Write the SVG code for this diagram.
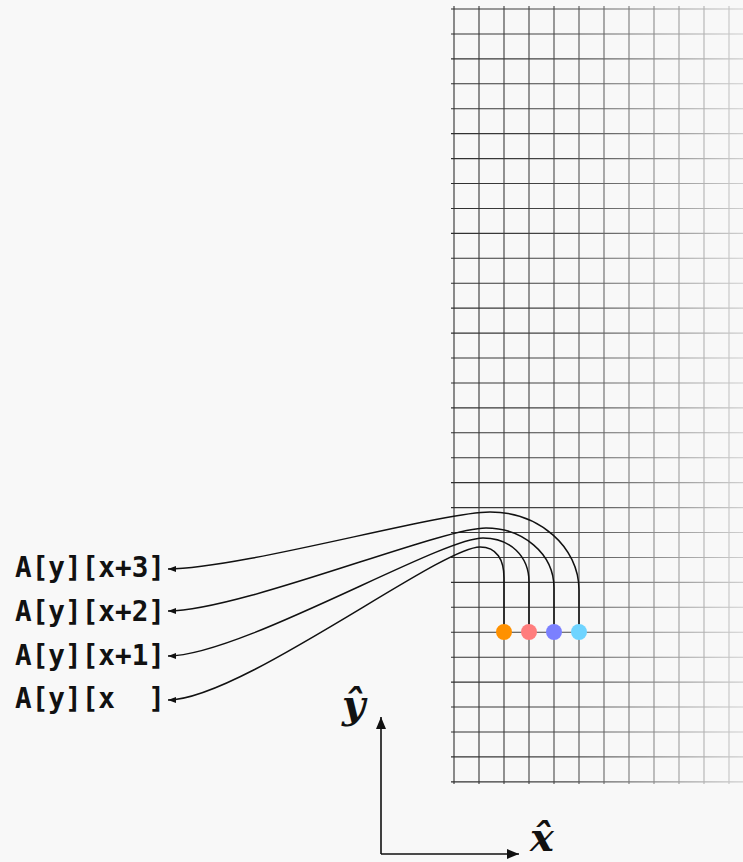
<svg xmlns="http://www.w3.org/2000/svg" width="743" height="862" viewBox="0 0 743 862">
<style>
.lbl{font-family:"DejaVu Sans Mono","Liberation Mono",monospace;font-weight:bold;font-size:28px;fill:#111;white-space:pre}
.conn{fill:none;stroke:#111;stroke-width:1.5}
.axis{fill:none;stroke:#111;stroke-width:1.6}
.math{font-family:"DejaVu Serif","Liberation Serif",serif;font-style:italic;font-weight:bold;font-size:40px;fill:#111}
.g{stroke:url(#fade);stroke-width:1.1}
</style>
<defs>
<linearGradient id="fade" gradientUnits="userSpaceOnUse" x1="450" y1="0" x2="743" y2="0">
<stop offset="0" stop-color="#2e2e2e"/>
<stop offset="0.4" stop-color="#4a4a4a"/>
<stop offset="1" stop-color="#cfcfcf"/>
</linearGradient>
<marker id="ah" markerUnits="userSpaceOnUse" markerWidth="9" markerHeight="7" refX="8" refY="3" orient="auto" viewBox="0 0 9 7">
<path d="M0,0 L8,3 L0,6 z" fill="#111"/>
</marker>
<marker id="axh" markerUnits="userSpaceOnUse" markerWidth="13" markerHeight="11" refX="12" refY="5" orient="auto" viewBox="0 0 13 11">
<path d="M0,0 L12,5 L0,10 z" fill="#111"/>
</marker>
</defs>
<rect width="743" height="862" fill="#f8f8f8"/>
<g id="grid">
<g id="grid-h">
<line class="g" x1="451" y1="9" x2="743" y2="9"/>
<line class="g" x1="451" y1="33.93" x2="743" y2="33.93"/>
<line class="g" x1="451" y1="58.86" x2="743" y2="58.86"/>
<line class="g" x1="451" y1="83.79" x2="743" y2="83.79"/>
<line class="g" x1="451" y1="108.72" x2="743" y2="108.72"/>
<line class="g" x1="451" y1="133.65" x2="743" y2="133.65"/>
<line class="g" x1="451" y1="158.58" x2="743" y2="158.58"/>
<line class="g" x1="451" y1="183.51" x2="743" y2="183.51"/>
<line class="g" x1="451" y1="208.44" x2="743" y2="208.44"/>
<line class="g" x1="451" y1="233.37" x2="743" y2="233.37"/>
<line class="g" x1="451" y1="258.3" x2="743" y2="258.3"/>
<line class="g" x1="451" y1="283.23" x2="743" y2="283.23"/>
<line class="g" x1="451" y1="308.16" x2="743" y2="308.16"/>
<line class="g" x1="451" y1="333.09" x2="743" y2="333.09"/>
<line class="g" x1="451" y1="358.02" x2="743" y2="358.02"/>
<line class="g" x1="451" y1="382.95" x2="743" y2="382.95"/>
<line class="g" x1="451" y1="407.88" x2="743" y2="407.88"/>
<line class="g" x1="451" y1="432.81" x2="743" y2="432.81"/>
<line class="g" x1="451" y1="457.74" x2="743" y2="457.74"/>
<line class="g" x1="451" y1="482.67" x2="743" y2="482.67"/>
<line class="g" x1="451" y1="507.6" x2="743" y2="507.6"/>
<line class="g" x1="451" y1="532.53" x2="743" y2="532.53"/>
<line class="g" x1="451" y1="557.46" x2="743" y2="557.46"/>
<line class="g" x1="451" y1="582.39" x2="743" y2="582.39"/>
<line class="g" x1="451" y1="607.32" x2="743" y2="607.32"/>
<line class="g" x1="451" y1="632.25" x2="743" y2="632.25"/>
<line class="g" x1="451" y1="657.18" x2="743" y2="657.18"/>
<line class="g" x1="451" y1="682.11" x2="743" y2="682.11"/>
<line class="g" x1="451" y1="707.04" x2="743" y2="707.04"/>
<line class="g" x1="451" y1="731.97" x2="743" y2="731.97"/>
<line class="g" x1="451" y1="756.9" x2="743" y2="756.9"/>
<line class="g" x1="451" y1="781.83" x2="743" y2="781.83"/>
</g>
<g id="grid-v">
<line class="g" x1="454" y1="6" x2="454" y2="784"/>
<line class="g" x1="479" y1="6" x2="479" y2="784"/>
<line class="g" x1="504" y1="6" x2="504" y2="784"/>
<line class="g" x1="529" y1="6" x2="529" y2="784"/>
<line class="g" x1="554" y1="6" x2="554" y2="784"/>
<line class="g" x1="579" y1="6" x2="579" y2="784"/>
<line class="g" x1="604" y1="6" x2="604" y2="784"/>
<line class="g" x1="629" y1="6" x2="629" y2="784"/>
<line class="g" x1="654" y1="6" x2="654" y2="784"/>
<line class="g" x1="679" y1="6" x2="679" y2="784"/>
<line class="g" x1="704" y1="6" x2="704" y2="784"/>
<line class="g" x1="729" y1="6" x2="729" y2="784"/>
</g>
</g>
<g id="connectors">
<path class="conn" marker-end="url(#ah)" d="M579,632 L579,590 C579,547 539,512 490,512 C440,512 240,569 168,569"/>
<path class="conn" marker-end="url(#ah)" d="M554,632 L554,588 C554,553 522,528 486,528 C440,528 240,611 168,611"/>
<path class="conn" marker-end="url(#ah)" d="M529,632 L529,582 C529,556 510,538 483,538 C440,538 240,656 168,656"/>
<path class="conn" marker-end="url(#ah)" d="M504,632 L504,578 C504,560 497,547 480,547 C440,547 240,700 168,700"/>
</g>
<g id="dot-x0"><circle cx="504" cy="632" r="8" fill="#ff9100"/></g>
<g id="dot-x1"><circle cx="529" cy="632" r="8" fill="#ff7d7d"/></g>
<g id="dot-x2"><circle cx="554" cy="632" r="8" fill="#7b80ff"/></g>
<g id="dot-x3"><circle cx="579" cy="632" r="8" fill="#6fd4ff"/></g>
<g id="label-x3"><text class="lbl" x="15" y="577" textLength="150" lengthAdjust="spacingAndGlyphs">A[y][x+3]</text></g>
<g id="label-x2"><text class="lbl" x="15" y="621" textLength="150" lengthAdjust="spacingAndGlyphs">A[y][x+2]</text></g>
<g id="label-x1"><text class="lbl" x="15" y="665" textLength="150" lengthAdjust="spacingAndGlyphs">A[y][x+1]</text></g>
<g id="label-x0"><text class="lbl" x="15" y="708" textLength="150" lengthAdjust="spacingAndGlyphs">A[y][x  ]</text></g>
<g id="axes">
<line class="axis" x1="381" y1="854" x2="381" y2="717" marker-end="url(#axh)"/>
<line class="axis" x1="381" y1="854" x2="519" y2="854" marker-end="url(#axh)"/>
<text class="math" x="342" y="718">ŷ</text>
<text class="math" x="530" y="851">x̂</text>
</g>
</svg>
